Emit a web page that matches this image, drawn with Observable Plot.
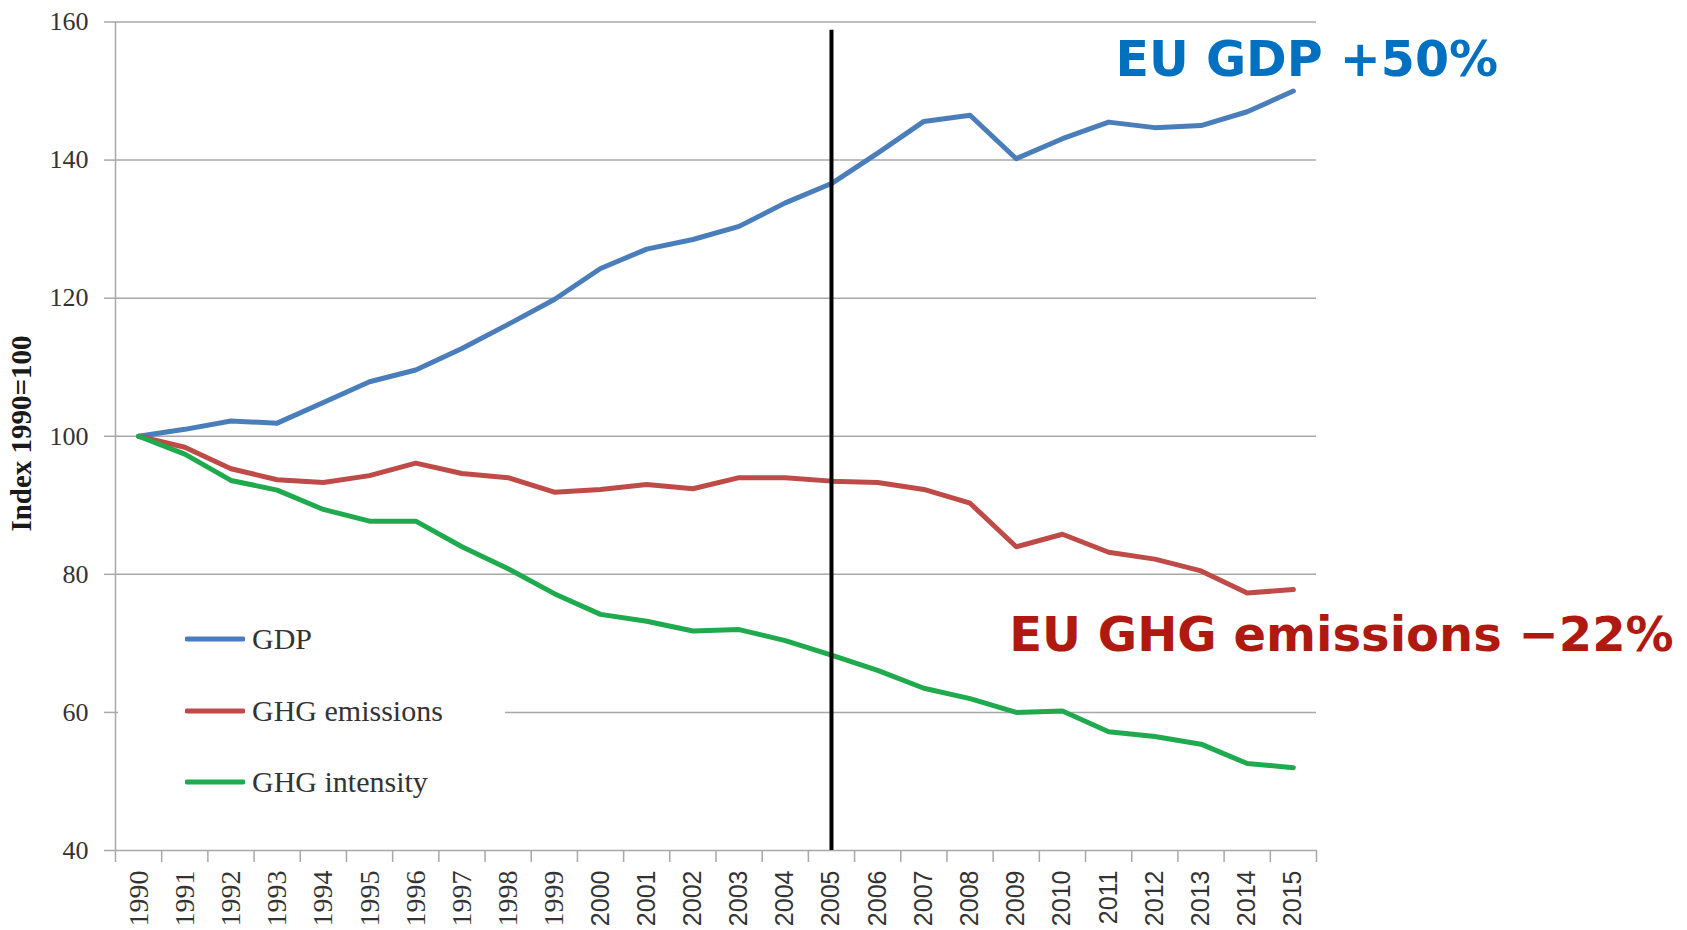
<!DOCTYPE html>
<html>
<head>
<meta charset="utf-8">
<script src="https://cdn.jsdelivr.net/npm/d3@7"></script>
<script src="https://cdn.jsdelivr.net/npm/@observablehq/plot@0.6"></script>
<style>
  html, body { margin: 0; padding: 0; background: #fff; }
  #wrap { position: relative; width: 1687px; height: 930px; overflow: hidden; }
  #legend { position: absolute; left: 118px; top: 598px; width: 387px; height: 228px; background: #fff; }
  .item { position: absolute; left: 0; height: 40px; display: flex; align-items: center; font-family: "Liberation Serif", serif; font-size: 30px; color: #333; }
  .item svg { margin-left: 67px; margin-right: 7px; }
</style>
</head>
<body>
<div id="wrap"></div>
<script>
// ---- data ----
const years = [1990,1991,1992,1993,1994,1995,1996,1997,1998,1999,2000,2001,2002,2003,2004,2005,2006,2007,2008,2009,2010,2011,2012,2013,2014,2015];
const gdp = [100,101,102.2,101.9,104.9,107.9,109.6,112.7,116.2,119.8,124.3,127.1,128.5,130.4,133.8,136.6,141.0,145.6,146.5,140.2,143.1,145.5,144.7,145.0,147.0,150.0];
const ghgEmissions = [100,98.4,95.3,93.7,93.3,94.3,96.1,94.6,94.0,91.9,92.3,93.0,92.4,94.0,94.0,93.5,93.3,92.3,90.3,84.0,85.8,83.2,82.2,80.5,77.3,77.8];
const ghgIntensity = [100,97.4,93.6,92.2,89.4,87.7,87.7,84.0,80.8,77.2,74.2,73.2,71.8,72.0,70.4,68.3,66.1,63.5,62.0,60.0,60.2,57.2,56.5,55.4,52.6,52.0];
const seriesNames = ["GDP","GHG emissions","GHG intensity"];
const seriesColors = ["#4a7ebb","#be4b48","#1faa4e"];
const yTicks = [40,60,80,100,120,140,160];
const markerYear = 2005;
const markerTop = 158.8;
const yLabel = "Index 1990=100";
const yLabelAt = 100.4;
const annoText = ["EU GDP +50%","EU GHG emissions \u221222%"];
const annoYear = [2011.15, 2008.85];
const annoValue = [154.4, 71.1];
const annoColor = ["#0070c0","#b0190f"];
const annoSize = [49, 48];

// ---- build table ----
const seriesValues = [gdp, ghgEmissions, ghgIntensity];
const rows = [];
seriesNames.forEach((name, s) => years.forEach((yr, i) => rows.push({series: name, year: yr, value: seriesValues[s][i]})));
const annos = annoText.map((t, i) => ({text: t, year: annoYear[i], value: annoValue[i], color: annoColor[i], size: annoSize[i]}));

const x0 = years[0] - 0.5, x1 = years[years.length - 1] + 0.5;
const boundaries = years.map(y => y - 0.5).concat([x1]);
const grid = "#a8a8a8";

const chart = Plot.plot({
  width: 1687, height: 930,
  marginLeft: 115, marginRight: 371, marginTop: 21.5, marginBottom: 80,
  x: {domain: [x0, x1]},
  y: {domain: [yTicks[0], yTicks[yTicks.length - 1]]},
  color: {domain: seriesNames, range: seriesColors},
  style: {background: "white", fontFamily: "'Liberation Serif', serif", overflow: "visible"},
  marks: [
    Plot.gridY({ticks: yTicks, stroke: grid, strokeOpacity: 1, strokeWidth: 1.5}),
    Plot.ruleX([x0], {stroke: grid, strokeWidth: 1.5}),
    Plot.axisY({ticks: yTicks, tickSize: 11, tickPadding: 16, stroke: grid, strokeWidth: 1.5, fontSize: 26, color: "#333", label: null}),
    Plot.axisX({ticks: boundaries, tickSize: 12, tickFormat: () => "", stroke: grid, strokeWidth: 1.5, label: null}),
    Plot.axisX({ticks: years.filter(y => y < 2000), tickSize: 0, tickPadding: 20, tickRotate: -90, tickFormat: d => String(d), fontSize: 28, fontFamily: "'Liberation Serif', serif", color: "#333", label: null}),
    Plot.axisX({ticks: years.filter(y => y >= 2000), tickSize: 0, tickPadding: 20, tickRotate: -90, tickFormat: d => String(d), fontSize: 25, fontFamily: "'Liberation Sans', sans-serif", color: "#333", label: null}),
    Plot.line(rows, {x: "year", y: "value", z: "series", stroke: "series", strokeWidth: 5, strokeLinejoin: "round", strokeLinecap: "round"}),
    Plot.ruleX([markerYear], {y1: yTicks[0], y2: markerTop, stroke: "black", strokeWidth: 4}),
    Plot.text(annos, {x: "year", y: "value", text: "text", fill: "color", fontSize: "size", textAnchor: "start", fontWeight: "bold", fontFamily: "'DejaVu Sans', sans-serif"}),
    Plot.text([{t: yLabel, v: yLabelAt}], {y: "v", text: "t", frameAnchor: "left", textAnchor: "middle", rotate: -90, dx: -94, fontSize: 29, fontWeight: "bold", fill: "#1a1a1a"})
  ]
});

const wrap = document.getElementById("wrap");
wrap.appendChild(chart);

// legend
const legend = document.createElement("div");
legend.id = "legend";
const itemTops = [21, 93, 164];
seriesNames.forEach((name, i) => {
  const it = document.createElement("div");
  it.className = "item";
  it.style.top = itemTops[i] + "px";
  it.innerHTML = `<svg width="60" height="10"><line x1="2" y1="5" x2="58" y2="5" stroke="${seriesColors[i]}" stroke-width="5" stroke-linecap="round"/></svg><span>${name}</span>`;
  legend.appendChild(it);
});
wrap.appendChild(legend);
</script>
</body>
</html>
